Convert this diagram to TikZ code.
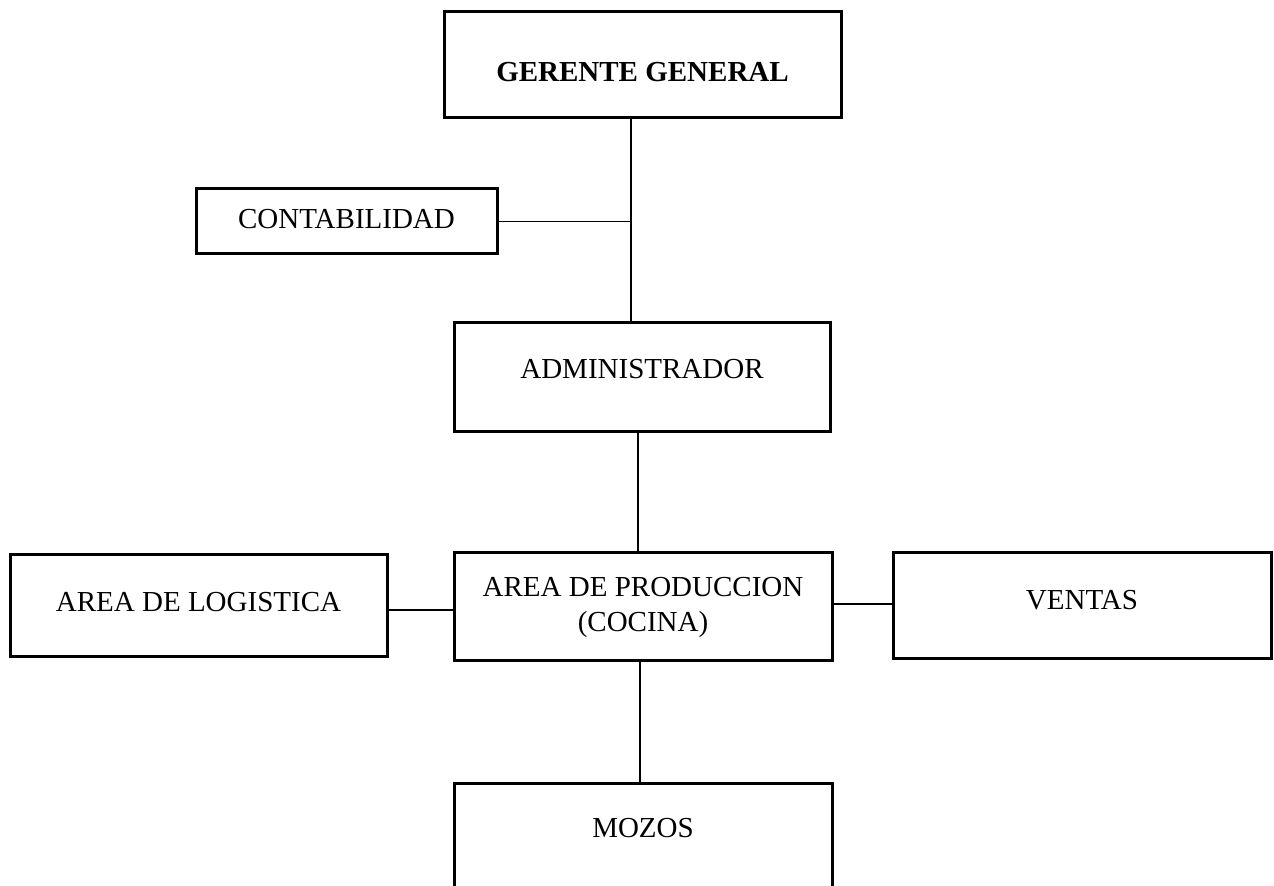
\documentclass[tikz,border=0pt]{standalone}
\usepackage{fontspec}
\setmainfont{Liberation Serif}
\newcommand\boxfont{\fontsize{14.5}{17.5}\selectfont}
\begin{document}
\begin{tikzpicture}[x=0.5pt, y=-0.5pt,
    box/.style={draw, line width=1.5pt, inner sep=0pt, align=center, font=\boxfont},
    link/.style={line width=0.65pt}]
    \useasboundingbox (0,0) rectangle (1274,886);

    \node[box, minimum width=198.5pt, minimum height=53pt, text height=16.5pt, font=\boxfont\bfseries] (ger) at (642.5,65) {GERENTE GENERAL};
    \node[box, minimum width=150.5pt, minimum height=32.5pt, text depth=3pt] (cont) at (346.5,221.5) {CONTABILIDAD};
    \node[box, minimum width=188pt, minimum height=54.5pt, text depth=9pt] (adm) at (642,377.5) {ADMINISTRADOR};
    \node[box, minimum width=188.5pt, minimum height=51pt, text depth=4pt] (log) at (198.5,606) {AREA DE LOGISTICA};
    \node[box, minimum width=189pt, minimum height=54pt] (prod) at (643,607) {AREA DE PRODUCCION\\(COCINA)};
    \node[box, minimum width=189pt, minimum height=53pt, text depth=6pt] (ven) at (1082,606) {VENTAS};
    \node[box, minimum width=189pt, minimum height=56pt, text depth=11pt] (moz) at (643,839) {MOZOS};

    \coordinate (t1) at ([xshift=-5.75pt]ger.south);
    \draw[link] (t1) -- (t1 |- adm.north);
    \draw[link] (cont.east) -- (cont.east -| t1);
    \draw[link] ([xshift=-2pt]adm.south) -- ([xshift=-2pt]adm.south |- prod.north);
    \draw[link] ([yshift=-2pt]log.east) -- ([yshift=-2pt]log.east -| prod.west);
    \draw[link] ([yshift=1.5pt]prod.east) -- ([yshift=1.5pt]prod.east -| ven.west);
    \draw[link] ([xshift=-1.5pt]prod.south) -- ([xshift=-1.5pt]prod.south |- moz.north);
\end{tikzpicture}
\end{document}
